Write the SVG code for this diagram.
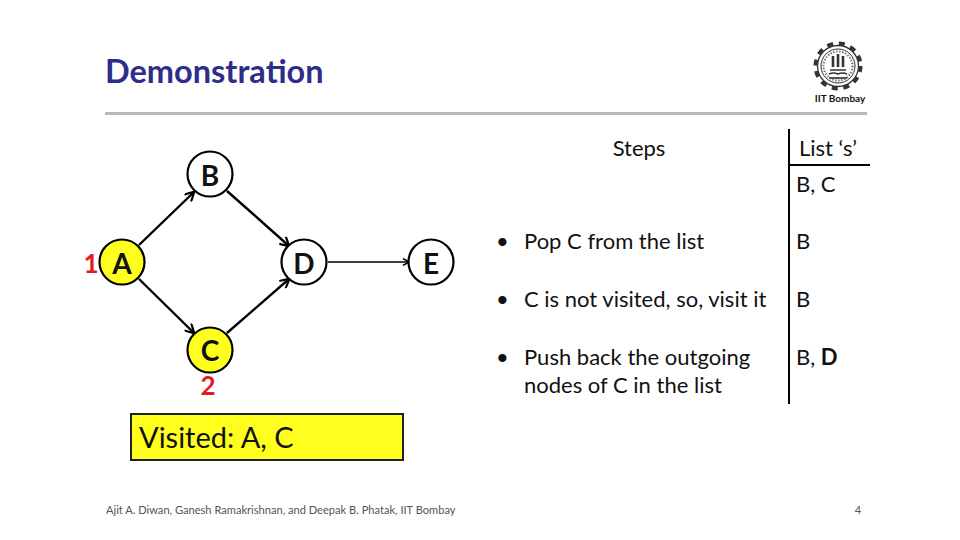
<svg xmlns="http://www.w3.org/2000/svg" width="960" height="540" viewBox="0 0 960 540">
<style>
text{font-family:"Lato","Open Sans","Liberation Sans",sans-serif;fill:#111}
.n{fill:#fff;stroke:#000;stroke-width:2.2}
.v{fill:#ffff1e}
.nl{font-size:28px;font-weight:700;text-anchor:middle}
.r{font-size:26px;font-weight:700;fill:#e01b24;text-anchor:middle}
.b{font-size:22px}
.e{stroke:#000;fill:none;stroke-width:2.4;marker-end:url(#ah)}
</style>
<defs><marker id="ah" viewBox="0 0 10 10" refX="9" refY="5" markerWidth="4.5" markerHeight="4.5" orient="auto" markerUnits="strokeWidth"><path d="M1 0.5L9.5 5L1 9.5" fill="none" stroke="#000" stroke-width="2"/></marker></defs>
<rect width="960" height="540" fill="#fff"/>
<text x="105" y="83" font-size="32.5" font-weight="700" style="fill:#2e2e8a">Demonstration</text>
<rect x="105" y="112" width="762" height="3" fill="#b9b9b9"/>
<g id="logo" fill="none" stroke="#333">
<circle cx="838" cy="66" r="22.5" stroke-width="4" stroke-dasharray="6 5.8"/>
<circle cx="838" cy="66" r="20.5" fill="#fff" stroke-width="1.3"/>
<circle cx="838" cy="66" r="17" stroke-width="1"/>
<circle cx="838" cy="66" r="14.5" stroke-width="2" stroke-dasharray="1.5 1.5" stroke="#777"/>
<path d="M833 56v11M838 54v13M843 56v11" stroke-width="2.6"/>
<path d="M830 70h16M829 74q4.500-2 9 0q4.500-2 9 0" stroke-width="1.6"/>
<path d="M829 78h18" stroke-width="2" stroke="#555"/>
</g>
<text x="840" y="102" font-size="10" font-weight="700" text-anchor="middle">IIT Bombay</text>
<g id="connectors">
<path class="e" d="M139 245L194 192"/>
<path class="e" d="M139 279L194 333"/>
<path class="e" d="M227 191L289 246"/>
<path class="e" d="M227 333L289 279"/>
<path class="e" style="stroke-width:1.7" d="M328 262L409 262"/>
</g>
<g id="node-A"><circle class="n v" cx="122" cy="262" r="22.5"/><text class="nl" x="122" y="274">A</text></g>
<g id="node-B"><circle class="n" cx="210" cy="174" r="22.5"/><text class="nl" x="210" y="186">B</text></g>
<g id="node-C"><circle class="n v" cx="210" cy="350" r="22.5"/><text class="nl" x="210" y="361">C</text></g>
<g id="node-D"><circle class="n" cx="304" cy="262" r="22.5"/><text class="nl" x="304" y="274">D</text></g>
<g id="node-E"><circle class="n" cx="431" cy="262" r="22.5"/><text class="nl" x="431" y="274">E</text></g>
<text class="r" x="91" y="273">1</text>
<text class="r" x="208" y="395">2</text>
<g id="visited"><rect x="131" y="414" width="272" height="46" fill="#ffff1e" stroke="#222" stroke-width="2"/><text x="139" y="448" font-size="29">Visited: A, C</text></g>
<text class="b" x="639" y="156" text-anchor="middle">Steps</text>
<text class="b" x="799" y="156">List ‘s’</text>
<text class="b" x="796" y="192">B, C</text>
<path d="M789 129V404M789 165H870" stroke="#000" stroke-width="2" fill="none"/>
<text class="b" x="496" y="249">•</text><text class="b" x="524" y="249">Pop C from the list</text><text class="b" x="796" y="249">B</text>
<text class="b" x="496" y="307">•</text><text class="b" x="524" y="307">C is not visited, so, visit it</text><text class="b" x="796" y="307">B</text>
<text class="b" x="496" y="365">•</text><text class="b" x="524" y="365">Push back the outgoing</text><text class="b" x="524" y="393">nodes of C in the list</text>
<text class="b" x="796" y="365">B, <tspan font-weight="700">D</tspan></text>
<text x="106" y="514" font-size="11.1" style="fill:#555">Ajit A. Diwan, Ganesh Ramakrishnan, and Deepak B. Phatak, IIT Bombay</text>
<text x="858" y="514" font-size="11.1" text-anchor="middle" style="fill:#555">4</text>
</svg>
